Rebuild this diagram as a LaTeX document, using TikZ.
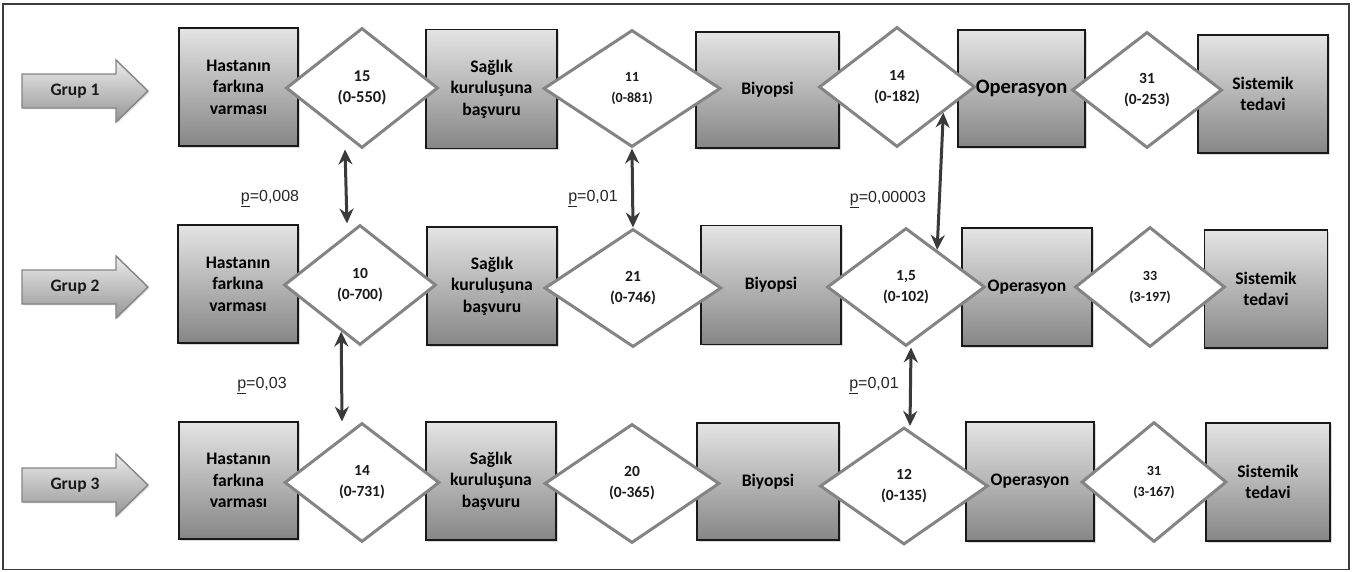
\documentclass[tikz,border=0pt]{standalone}
\usepackage{fontspec}
\setmainfont{Carlito}
\newfontfamily\labelfont{Liberation Sans}
\usetikzlibrary{shapes.geometric,arrows.meta,shadows}

\definecolor{boxtop}{RGB}{228,228,228}
\definecolor{boxbot}{RGB}{134,134,134}
\definecolor{rim}{RGB}{132,132,132}
\definecolor{linkcol}{RGB}{58,58,58}
\definecolor{framecol}{RGB}{60,60,60}
\definecolor{arrowtop}{RGB}{235,235,235}
\definecolor{arrowbot}{RGB}{150,150,150}

\tikzset{
  stage/.style 2 args={draw=black!90, line width=1.8pt,
    top color=boxtop, bottom color=boxbot,
    minimum width=#1, minimum height=#2, inner sep=0pt,
    align=center, text=black,
    font=\fontsize{17.6}{21.5}\selectfont\bfseries,
    drop shadow={shadow xshift=1.6pt, shadow yshift=-1.6pt, opacity=0.3}},
  waitdiamond/.style 2 args={diamond, draw=rim, line width=3pt, fill=white,
    minimum width=#1, minimum height=#2, inner sep=0pt,
    align=center, text=black!90,
    font=\fontsize{15.5}{21}\selectfont\bfseries},
  grouplabel/.style={inner sep=0pt, text=black!90,
    font=\fontsize{17.5}{20}\selectfont\bfseries},
  grouparrow/.style={draw=rim, line width=1.4pt,
    top color=arrowtop, bottom color=arrowbot,
    drop shadow={shadow xshift=1.4pt, shadow yshift=-1.4pt, opacity=0.25}},
  link/.style={{Stealth[length=15pt,width=14pt,inset=5pt]}-{Stealth[length=15pt,width=14pt,inset=5pt]},
    draw=linkcol, line width=3pt},
  plabel/.style={inner sep=0pt, text=black!85,
    font=\labelfont\fontsize{16}{19}\selectfont}
}

% group arrow: a block arrow around coordinate #1 carrying text #2
\newcommand\grouparrowat[2]{%
  \path[grouparrow]
    ([shift={(-63,-17)}]#1) -- ([shift={(31,-17)}]#1) --
    ([shift={(31,-31)}]#1) -- ([shift={(63,0)}]#1) --
    ([shift={(31,31)}]#1) -- ([shift={(31,17)}]#1) --
    ([shift={(-63,17)}]#1) -- cycle;
  \node[grouplabel] (#1t) at ([shift={(-10,0)}]#1) {#2};%
}

\begin{document}
\begin{tikzpicture}[x=1pt, y=-1pt]
\useasboundingbox (0,0) rectangle (1352,572);

% outer frame
\draw[framecol, line width=1.8pt] (3,4) rectangle (1349,569.5);

% group arrows
\coordinate (g1) at (85,91);
\coordinate (g2) at (85,287);
\coordinate (g3) at (85,485);
\grouparrowat{g1}{Grup 1}
\grouparrowat{g2}{Grup 2}
\grouparrowat{g3}{Grup 3}

% ---- row 1: stages
\node[stage={119}{118}] (b11) at (238.5,87) {Hastanın\\farkına\\varması};
\node[stage={131}{119}] (b12) at (491.5,89) {Sağlık\\kuruluşuna\\başvuru};
\node[stage={143}{116}] (b13) at (767.5,90) {Biyopsi};
\node[stage={127}{117}, font=\fontsize{20.5}{24}\selectfont\bfseries] (b14) at (1021.5,88.5) {Operasyon};
\node[stage={130}{118}] (b15) at (1263,94) {Sistemik\\tedavi};

% ---- row 2: stages
\node[stage={120}{118}] (b21) at (238,284) {Hastanın\\farkına\\varması};
\node[stage={130}{118}] (b22) at (492,286) {Sağlık\\kuruluşuna\\başvuru};
\node[stage={140}{119}] (b23) at (771,285) {Biyopsi};
\node[stage={130}{118}] (b24) at (1027,287) {Operasyon};
\node[stage={123}{118}] (b25) at (1266,289) {Sistemik\\tedavi};

% ---- row 3: stages
\node[stage={119}{117}] (b31) at (238.5,480.5) {Hastanın\\farkına\\varması};
\node[stage={130}{118}] (b32) at (491,481) {Sağlık\\kuruluşuna\\başvuru};
\node[stage={142}{117}] (b33) at (768,481.5) {Biyopsi};
\node[stage={128}{119}] (b34) at (1030,481.5) {Operasyon};
\node[stage={124}{118}] (b35) at (1268,482) {Sistemik\\tedavi};

% ---- waiting times (days), drawn over the stages
\node[waitdiamond={152}{120}, font=\fontsize{16.5}{21}\selectfont\bfseries] (d11) at (362,88) {15\\(0-550)};
\node[waitdiamond={177}{117}, font=\fontsize{14}{21}\selectfont\bfseries] (d12) at (632,88.5) {11\\(0-881)};
\node[waitdiamond={156}{120}] (d13) at (897,87) {14\\(0-182)};
\node[waitdiamond={150}{116}] (d14) at (1147,90) {31\\(0-253)};

\node[waitdiamond={152}{120}] (d21) at (360,285) {10\\(0-700)};
\node[waitdiamond={177}{118}] (d22) at (633,288) {21\\(0-746)};
\node[waitdiamond={158}{118}] (d23) at (906,287) {1,5\\(0-102)};
\node[waitdiamond={150}{120}, font=\fontsize{14}{21}\selectfont\bfseries] (d24) at (1150,287) {33\\(3-197)};

\node[waitdiamond={155}{119}] (d31) at (362,482.5) {14\\(0-731)};
\node[waitdiamond={175}{119}] (d32) at (632,483.5) {20\\(0-365)};
\node[waitdiamond={168}{117}] (d33) at (904,486) {12\\(0-135)};
\node[waitdiamond={145}{120}, font=\fontsize{14}{21}\selectfont\bfseries] (d34) at (1154,482) {31\\(3-167)};

% ---- comparisons between groups
\draw[link] ([xshift=-17pt]d11.south) -- ([xshift=-13pt]d21.north);
\draw[link] (d21.248.5) -- ([xshift=-20pt]d31.north);
\draw[link] (d12.south) -- (d22.north);
\draw[link] (d13.-29.4) -- (d23.50.7);
\draw[link] ([xshift=5pt]d23.south) -- ([xshift=6pt]d33.north);

% ---- p values
\node[plabel] (p1) at (270,199) {\underline{p}=0,008};
\node[plabel] (p2) at (593,199) {\underline{p}=0,01};
\node[plabel] (p3) at (888,200) {\underline{p}=0,00003};
\node[plabel] (p4) at (262,386) {\underline{p}=0,03};
\node[plabel] (p5) at (874,386) {\underline{p}=0,01};
\end{tikzpicture}
\end{document}
